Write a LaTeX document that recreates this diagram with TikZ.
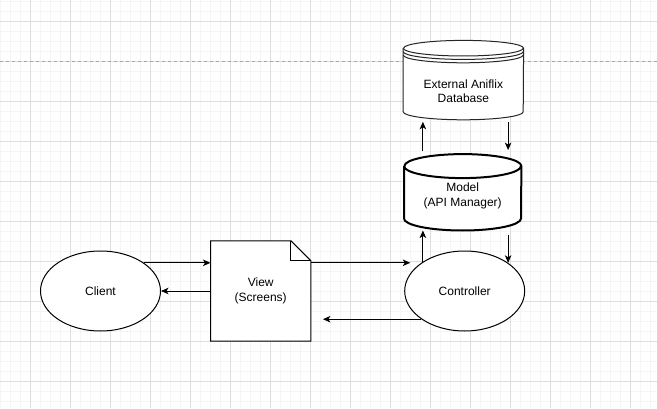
\documentclass[tikz,border=0pt]{standalone}
\usepackage{fontspec}
\setmainfont{Liberation Sans}
\usetikzlibrary{arrows.meta,backgrounds,calc,positioning,shapes.geometric}

\begin{document}
\begin{tikzpicture}[
x=1pt, y=1pt,
every node/.style = {font=\fontsize{12}{14.5}\selectfont,
                     align=center, inner sep=0pt},
actor/.style = {draw, line width=1pt, fill=white, ellipse,
                minimum width=120pt, minimum height=80pt},
page/.style = {minimum width=100pt, minimum height=100pt},
drum/.style 2 args = {minimum width=#1pt, minimum height=#2pt},
minor/.style = {black!4, line width=1pt},
major/.style = {black!13, line width=1pt},
pagebreak/.style = {black!35, line width=1pt, dash pattern=on 3pt off 3pt},
outline/.style = {draw, fill=white, line width=1pt},
arr/.style = {-{Stealth[length=7.5pt, width=6.5pt, inset=2pt]}, line width=1pt}
                ]
\useasboundingbox (0,0) rectangle (657,408);
%% grid
\begin{scope}[on background layer]
\fill[white] (0,0) rectangle (657,408);
\foreach \x in {0.5,10.5,...,650.5} \draw[minor] (\x,0) -- (\x,408);
\foreach \y in {6.5,16.5,...,406.5} \draw[minor] (0,\y) -- (657,\y);
\foreach \x in {30.5,70.5,...,630.5} \draw[major] (\x,0) -- (\x,408);
\foreach \y in {26.5,66.5,...,386.5} \draw[major] (0,\y) -- (657,\y);
\draw[pagebreak] (0,346.5) -- (657,346.5);
\end{scope}

\node (client) [actor] at (100.5,117) {Client};
\node (view) [page, right=49.5pt of client] {View\\(Screens)};
\node (controller) [actor, right=93.3pt of view] {Controller};
\node (model) [drum={117}{76}, above=20pt of controller, xshift=-2pt,
               label={[yshift=-3.5pt]center:Model\\(API Manager)}] {};
\node (extdb) [drum={120}{79}, above=34.3pt of model, xshift=0.7pt,
               label={[yshift=-11pt]center:External Aniflix\\Database}] {};

%% shapes behind the texts
\begin{scope}[on background layer]
\draw[outline] (view.north west) -- ($(view.north east)+(-20,0)$)
    -- ($(view.north east)+(0,-20)$) -- (view.south east)
    -- (view.south west) -- cycle;
\draw[line width=1pt] ($(view.north east)+(-20,0)$)
    -- ($(view.north east)+(-20,-20)$) -- ($(view.north east)+(0,-20)$);
% model
\draw[outline, line width=2pt] ($(model.north west)+(0,-12)$)
    -- ($(model.south west)+(0,12)$)
    arc [start angle=180, end angle=360, x radius=58.5pt, y radius=12pt]
    -- ($(model.north east)+(0,-12)$)
    arc [start angle=0, end angle=180, x radius=58.5pt, y radius=12pt];
\draw[line width=2pt] ($(model.north west)+(0,-12)$)
    arc [start angle=180, end angle=360, x radius=58.5pt, y radius=12pt];
% external database
\draw[outline, draw=black!85] ($(extdb.north west)+(0,-7.8)$)
    -- ($(extdb.south west)+(0,8)$)
    arc [start angle=180, end angle=360, x radius=60pt, y radius=8pt]
    -- ($(extdb.north east)+(0,-7.8)$)
    arc [start angle=0, end angle=180, x radius=60pt, y radius=7.8pt];
\foreach \d in {0,3.4,6.8}
    \draw[draw=black!85, line width=1pt] ($(extdb.north west)+(0,-7.8-\d)$)
    arc [start angle=180, end angle=360, x radius=60pt, y radius=7.8pt];
\end{scope}

%% connectors
\coordinate (vtop) at ([yshift=-22pt]view.north east);
\draw[arr] (client.33) -- (client.33 -| view.west);
\draw[arr] (view.west) -- (client.east);
\draw[arr, shorten >=11pt] (vtop) -- (vtop -| controller.147);
\draw[arr, shorten >=12pt] (controller.213) -- (controller.213 -| view.east);
\draw[arr] (controller.145) -- (controller.145 |- model.south);
\draw[arr, shorten <=4pt] (model.south -| controller.33) -- (controller.33);
\draw[arr, shorten <=3.3pt, shorten >=2pt] (model.north -| controller.145)
    -- (extdb.south -| controller.145);
\draw[arr, shorten <=2.4pt, shorten >=4pt] (extdb.south -| controller.33)
    -- (model.north -| controller.33);
\end{tikzpicture}
\end{document}
